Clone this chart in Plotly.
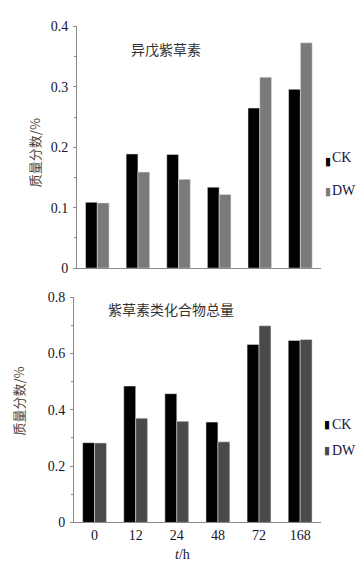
import plotly.graph_objects as go

categories = ["0", "12", "24", "48", "72", "168"]
ck_top = [0.109, 0.189, 0.188, 0.134, 0.265, 0.296]
dw_top = [0.108, 0.159, 0.147, 0.122, 0.316, 0.373]
ck_bot = [0.283, 0.484, 0.457, 0.356, 0.632, 0.646]
dw_bot = [0.282, 0.370, 0.359, 0.286, 0.698, 0.649]
title_top = "异戊紫草素"
title_bot = "紫草素类化合物总量"
ytitle = "质量分数/%"
xtitle = "<i>t</i>/h"
series_names = ["CK", "DW"]

W, H = 364, 584
def px(x): return x / W
def py(y): return 1 - y / H

CK_COLOR = "#000000"
DW_TOP = "#7a7a7a"
DW_BOT = "#4a4a4a"
TICK_FONT = dict(family="Liberation Serif", size=14, color="#141430")
CJK = "Noto Sans CJK SC"

fig = go.Figure()
fig.add_bar(x=categories, y=ck_top, name="CK", marker_color=CK_COLOR, xaxis="x", yaxis="y", showlegend=False)
fig.add_bar(x=categories, y=dw_top, name="DW", marker_color=DW_TOP, xaxis="x", yaxis="y", showlegend=False)
fig.add_bar(x=categories, y=ck_bot, name="CK", marker_color=CK_COLOR, xaxis="x2", yaxis="y2", showlegend=False)
fig.add_bar(x=categories, y=dw_bot, name="DW", marker_color=DW_BOT, xaxis="x2", yaxis="y2", showlegend=False)

axis_line = "#8a8a8a"
fig.update_layout(
    width=W, height=H,
    margin=dict(l=0, r=0, t=0, b=0),
    paper_bgcolor="white", plot_bgcolor="white",
    barmode="group", bargap=0.42, bargroupgap=0,
    showlegend=False,
    xaxis=dict(domain=[px(77), px(320.7)], anchor="y", showline=True, linecolor=axis_line, linewidth=1,
               showticklabels=False, ticks="", showgrid=False, zeroline=False),
    yaxis=dict(domain=[py(268), py(20)], anchor="x", range=[0, 0.4], dtick=0.1, showline=True,
               linecolor=axis_line, linewidth=1, ticks="outside", ticklen=3, tickcolor=axis_line,
               minor=dict(dtick=0.05, ticks="outside", ticklen=2, tickcolor=axis_line),
               showgrid=False, zeroline=False, tickfont=TICK_FONT, ticklabelstandoff=2),
    xaxis2=dict(domain=[px(74), px(320.7)], anchor="y2", showline=True, linecolor=axis_line, linewidth=1,
                ticks="", showgrid=False, zeroline=False, tickfont=TICK_FONT, ticklabelstandoff=0),
    yaxis2=dict(domain=[py(529), py(297.7)], anchor="x2", range=[0, 0.8], dtick=0.2, showline=True,
                linecolor=axis_line, linewidth=1, ticks="outside", ticklen=3, tickcolor=axis_line,
                minor=dict(dtick=0.1, ticks="outside", ticklen=2, tickcolor=axis_line),
                showgrid=False, zeroline=False, tickfont=TICK_FONT, ticklabelstandoff=2),
)

ann = []
def add_text(text, x, y, font, xanchor="center", yanchor="middle", **kw):
    ann.append(dict(text=text, x=px(x), y=py(y), xref="paper", yref="paper", showarrow=False,
                    xanchor=xanchor, yanchor=yanchor, borderpad=0, font=font, **kw))

# chart titles
add_text(title_top, 166, 43, dict(family=CJK, size=14, color="#333333"))
add_text(title_bot, 171, 310, dict(family=CJK, size=14, color="#333333"))
# y titles
add_text(ytitle, 34, 150, dict(family=CJK, size=13, color="#4f4433"), textangle=-90)
add_text(ytitle, 19, 405, dict(family=CJK, size=13, color="#4f4433"), textangle=-90)
# x title
add_text(xtitle, 182, 562, dict(family="Liberation Serif", size=14, color="#141430"))

# legends
def legend_item(name, color, xg, yg, xt, yt):
    add_text("▮", xg, yg, dict(family="DejaVu Sans", size=11, color=color))
    add_text(name, xt, yt, dict(family="Liberation Serif", size=14, color="#141440"), xanchor="left")

legend_item(series_names[0], CK_COLOR, 327.5, 158.5, 331, 154)
legend_item(series_names[1], DW_TOP, 327.5, 189, 331, 188)
legend_item(series_names[0], CK_COLOR, 327, 428, 331, 428)
legend_item(series_names[1], DW_BOT, 327, 455, 331, 455)

fig.update_layout(annotations=ann)
fig.write_html("out.html", config={"displayModeBar": False},
               post_script="document.body.style.margin='0';document.documentElement.style.overflow='hidden';")
